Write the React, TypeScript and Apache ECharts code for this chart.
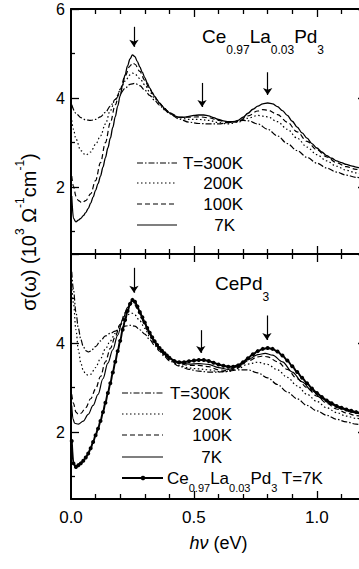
import React, { useEffect, useRef } from "react";
import * as echarts from "echarts";

// ---------- data (photon energy in eV, sigma in 10^3 Ohm^-1 cm^-1) ----------
const ce097_7K: [number, number][] = [
  [0.003, 1.8], [0.01, 1.3], [0.02, 1.22], [0.03, 1.26], [0.04, 1.3], [0.05, 1.36],
  [0.06, 1.43], [0.07, 1.52], [0.08, 1.64], [0.09, 1.78], [0.1, 1.93], [0.11, 2.08],
  [0.12, 2.25], [0.13, 2.45], [0.14, 2.66], [0.15, 2.88], [0.16, 3.1], [0.17, 3.34],
  [0.18, 3.58], [0.19, 3.82], [0.2, 4.05], [0.21, 4.3], [0.22, 4.52], [0.23, 4.72],
  [0.24, 4.88], [0.25, 4.97], [0.26, 4.93], [0.27, 4.82], [0.28, 4.7], [0.29, 4.58],
  [0.3, 4.46], [0.31, 4.34], [0.32, 4.23], [0.33, 4.13], [0.34, 4.04], [0.35, 3.96],
  [0.36, 3.89], [0.37, 3.83], [0.38, 3.77], [0.39, 3.72], [0.4, 3.67], [0.42, 3.6],
  [0.44, 3.57], [0.46, 3.57], [0.48, 3.59], [0.5, 3.61], [0.52, 3.62], [0.54, 3.62],
  [0.56, 3.6], [0.58, 3.56], [0.6, 3.52], [0.62, 3.49], [0.64, 3.47], [0.66, 3.47],
  [0.68, 3.5], [0.7, 3.57], [0.72, 3.66], [0.74, 3.75], [0.76, 3.82], [0.78, 3.87],
  [0.8, 3.89], [0.82, 3.87], [0.84, 3.81], [0.86, 3.72], [0.88, 3.61], [0.9, 3.48],
  [0.92, 3.35], [0.94, 3.22], [0.96, 3.1], [0.98, 2.98], [1.0, 2.88], [1.02, 2.79],
  [1.04, 2.71], [1.06, 2.65], [1.08, 2.59], [1.1, 2.55], [1.12, 2.51], [1.14, 2.48],
  [1.16, 2.45], [1.18, 2.43], [1.2, 2.41],
];
const ce097_100K: [number, number][] = [
  [0.003, 2.25], [0.01, 2.02], [0.02, 1.8], [0.03, 1.7], [0.045, 1.65], [0.06, 1.7],
  [0.08, 1.85], [0.1, 2.15], [0.12, 2.55], [0.14, 3.0], [0.16, 3.45], [0.18, 3.85],
  [0.2, 4.2], [0.22, 4.5], [0.24, 4.72], [0.25, 4.79], [0.26, 4.76], [0.28, 4.6],
  [0.3, 4.4], [0.32, 4.2], [0.34, 4.03], [0.36, 3.89], [0.38, 3.77], [0.4, 3.67],
  [0.44, 3.57], [0.48, 3.57], [0.52, 3.58], [0.56, 3.56], [0.6, 3.5], [0.64, 3.45],
  [0.68, 3.47], [0.72, 3.6], [0.76, 3.71], [0.78, 3.74], [0.8, 3.73], [0.84, 3.63],
  [0.88, 3.46], [0.92, 3.24], [0.96, 3.03], [1.0, 2.84], [1.04, 2.68], [1.08, 2.55],
  [1.12, 2.46], [1.16, 2.4], [1.2, 2.35],
];
const ce097_200K: [number, number][] = [
  [0.003, 3.5], [0.01, 3.3], [0.02, 3.08], [0.04, 2.82], [0.06, 2.72], [0.08, 2.79],
  [0.1, 2.96], [0.12, 3.15], [0.14, 3.42], [0.16, 3.72], [0.18, 3.97], [0.2, 4.17],
  [0.22, 4.38], [0.24, 4.52], [0.25, 4.56], [0.26, 4.54], [0.28, 4.44], [0.3, 4.3],
  [0.32, 4.14], [0.34, 4.0], [0.36, 3.87], [0.38, 3.76], [0.4, 3.67], [0.44, 3.56],
  [0.48, 3.52], [0.52, 3.52], [0.56, 3.5], [0.6, 3.45], [0.64, 3.42], [0.68, 3.46],
  [0.72, 3.55], [0.76, 3.61], [0.8, 3.58], [0.84, 3.47], [0.88, 3.3], [0.92, 3.1],
  [0.96, 2.9], [1.0, 2.73], [1.04, 2.59], [1.08, 2.47], [1.12, 2.38], [1.16, 2.32],
  [1.2, 2.27],
];
const ce097_300K: [number, number][] = [
  [0.003, 3.85], [0.02, 3.66], [0.04, 3.56], [0.06, 3.51], [0.08, 3.5], [0.1, 3.52],
  [0.12, 3.58], [0.14, 3.68], [0.16, 3.82], [0.18, 3.97], [0.2, 4.1], [0.22, 4.22],
  [0.24, 4.31], [0.26, 4.33], [0.28, 4.28], [0.3, 4.18], [0.32, 4.06], [0.34, 3.95],
  [0.36, 3.84], [0.38, 3.74], [0.4, 3.65], [0.44, 3.53], [0.48, 3.46], [0.52, 3.43],
  [0.56, 3.42], [0.6, 3.42], [0.64, 3.45], [0.68, 3.49], [0.7, 3.5], [0.72, 3.49],
  [0.76, 3.42], [0.8, 3.3], [0.84, 3.15], [0.88, 2.98], [0.92, 2.82], [0.96, 2.67],
  [1.0, 2.54], [1.04, 2.43], [1.08, 2.34], [1.12, 2.27], [1.16, 2.22], [1.2, 2.18],
];
const cepd3_7K: [number, number][] = [
  [0.003, 2.6], [0.008, 2.3], [0.015, 2.2], [0.03, 2.18], [0.05, 2.25], [0.07, 2.4],
  [0.09, 2.6], [0.11, 2.85], [0.13, 3.2], [0.15, 3.55], [0.17, 3.85], [0.19, 4.18],
  [0.21, 4.52], [0.23, 4.8], [0.25, 4.95], [0.26, 4.93], [0.28, 4.7], [0.3, 4.45],
  [0.32, 4.22], [0.34, 4.03], [0.36, 3.88], [0.38, 3.76], [0.4, 3.66], [0.44, 3.56],
  [0.48, 3.53], [0.52, 3.54], [0.56, 3.52], [0.6, 3.45], [0.64, 3.41], [0.68, 3.47],
  [0.72, 3.63], [0.76, 3.74], [0.79, 3.77], [0.82, 3.73], [0.86, 3.58], [0.9, 3.35],
  [0.94, 3.13], [0.98, 2.93], [1.02, 2.76], [1.06, 2.62], [1.1, 2.52], [1.14, 2.45],
  [1.18, 2.4],
];
const cepd3_100K: [number, number][] = [
  [0.003, 2.85], [0.01, 2.65], [0.02, 2.45], [0.03, 2.4], [0.04, 2.42], [0.06, 2.55],
  [0.08, 2.75], [0.1, 2.97], [0.12, 3.25], [0.14, 3.58], [0.16, 3.88], [0.18, 4.15],
  [0.2, 4.42], [0.22, 4.68], [0.24, 4.85], [0.25, 4.9], [0.26, 4.86], [0.28, 4.65],
  [0.3, 4.42], [0.32, 4.2], [0.34, 4.02], [0.36, 3.87], [0.38, 3.75], [0.4, 3.65],
  [0.44, 3.54], [0.48, 3.5], [0.52, 3.5], [0.56, 3.47], [0.6, 3.4], [0.64, 3.38],
  [0.68, 3.45], [0.72, 3.6], [0.76, 3.69], [0.78, 3.71], [0.8, 3.69], [0.84, 3.58],
  [0.88, 3.41], [0.92, 3.2], [0.96, 3.0], [1.0, 2.81], [1.04, 2.65], [1.08, 2.52],
  [1.12, 2.43], [1.16, 2.37], [1.2, 2.33],
];
const cepd3_200K: [number, number][] = [
  [0.003, 5.3], [0.01, 4.9], [0.02, 4.3], [0.03, 3.85], [0.04, 3.55], [0.05, 3.38],
  [0.06, 3.3], [0.07, 3.28], [0.08, 3.3], [0.1, 3.45], [0.12, 3.65], [0.14, 3.87],
  [0.16, 4.05], [0.18, 4.22], [0.2, 4.4], [0.22, 4.57], [0.24, 4.66], [0.25, 4.67],
  [0.26, 4.63], [0.28, 4.5], [0.3, 4.33], [0.32, 4.15], [0.34, 3.99], [0.36, 3.85],
  [0.38, 3.73], [0.4, 3.63], [0.44, 3.5], [0.48, 3.44], [0.52, 3.42], [0.56, 3.4],
  [0.6, 3.36], [0.64, 3.36], [0.68, 3.43], [0.72, 3.53], [0.76, 3.57], [0.8, 3.52],
  [0.84, 3.4], [0.88, 3.23], [0.92, 3.04], [0.96, 2.85], [1.0, 2.69], [1.04, 2.55],
  [1.08, 2.44], [1.12, 2.36], [1.16, 2.31], [1.2, 2.27],
];
const cepd3_300K: [number, number][] = [
  [0.003, 5.6], [0.01, 5.2], [0.02, 4.7], [0.03, 4.33], [0.04, 4.08], [0.05, 3.92],
  [0.06, 3.83], [0.07, 3.8], [0.08, 3.82], [0.1, 3.92], [0.12, 4.05], [0.14, 4.16],
  [0.16, 4.22], [0.18, 4.27], [0.2, 4.33], [0.22, 4.38], [0.24, 4.4], [0.26, 4.38],
  [0.28, 4.3], [0.3, 4.2], [0.32, 4.08], [0.34, 3.95], [0.36, 3.82], [0.38, 3.7],
  [0.4, 3.6], [0.44, 3.48], [0.48, 3.41], [0.52, 3.37], [0.56, 3.35], [0.6, 3.35],
  [0.64, 3.37], [0.68, 3.4], [0.72, 3.4], [0.76, 3.33], [0.8, 3.22], [0.84, 3.07],
  [0.88, 2.9], [0.92, 2.75], [0.96, 2.6], [1.0, 2.48], [1.04, 2.38], [1.08, 2.29],
  [1.12, 2.23], [1.16, 2.18], [1.2, 2.15],
];

const X_MIN = 0;
const X_MAX = 1.2;
const Y_MIN = 0.5;
const Y_MAX = 6;
const xTickLabels = [0, 0.5, 1.0];
const xMajorTicks = [0.5, 1.0];
const xMinorTicks = [0.1, 0.2, 0.3, 0.4, 0.6, 0.7, 0.8, 0.9, 1.1];
const yMajorTicks = [2, 4, 6];
const yMinorTicks = [1, 3, 5];
const yTickLabelsTop = [2, 4, 6];
const yTickLabelsBottom = [2, 4];
const legendTemps = ["T=300K", "200K", "100K", "7K"];
// arrows: [energy, sigma start, sigma end]
const arrowsTop = [[0.256, 5.6, 5.15], [0.533, 4.34, 3.8], [0.8, 4.58, 4.07]];
const arrowsBottom = [[0.256, 5.69, 5.13], [0.528, 4.29, 3.78], [0.797, 4.62, 4.07]];

const FONT = '"Liberation Sans", Arial, Helvetica, sans-serif';
const INK = "#000";
const DASH_DOT = [6, 2, 1.5, 2];
const DOT = [1.5, 2.5];
const DASH = [5, 3];

const GRID_TOP = { left: 71, top: 9, width: 295, height: 245 };
const GRID_BOT = { left: 71, top: 254, width: 295, height: 245 };

function xAxis(gridIndex: number, position: string, ticks: number[], len: number, showLine: boolean, labels?: number[], extra?: any) {
  return {
    type: "value", gridIndex, position, min: X_MIN, max: X_MAX,
    axisLine: { show: showLine, onZero: false, lineStyle: { color: INK, width: 2 } },
    axisTick: { show: true, inside: true, length: len, customValues: ticks, lineStyle: { color: INK, width: 1.3 } },
    axisLabel: labels
      ? { show: true, customValues: labels, formatter: (v: number) => v.toFixed(1), color: INK, fontFamily: FONT, fontSize: 17, margin: 10 }
      : { show: false },
    splitLine: { show: false },
    ...(extra || {}),
  };
}
function yAxis(gridIndex: number, position: string, ticks: number[], len: number, showLine: boolean, labels?: number[]) {
  return {
    type: "value", gridIndex, position, min: Y_MIN, max: Y_MAX,
    axisLine: { show: showLine, onZero: false, lineStyle: { color: INK, width: 2 } },
    axisTick: { show: true, inside: true, length: len, customValues: ticks, lineStyle: { color: INK, width: 1.3 } },
    axisLabel: labels
      ? { show: true, customValues: labels, color: INK, fontFamily: FONT, fontSize: 16, margin: 6 }
      : { show: false },
    splitLine: { show: false },
  };
}

function line(name: string, data: [number, number][], axis: number, dash: any, width = 1.2, extra?: any) {
  return {
    type: "line", name, data, xAxisIndex: axis, yAxisIndex: axis,
    showSymbol: false, smooth: 0.35, smoothMonotone: "x",
    lineStyle: { color: INK, width, type: dash, cap: "butt" },
    itemStyle: { color: INK },
    silent: true,
    ...(extra || {}),
  };
}

function arrows(list: number[][]) {
  return {
    silent: true,
    symbol: ["none", "arrow"],
    symbolSize: 7,
    label: { show: false },
    lineStyle: { color: INK, width: 1.2, type: "solid" },
    data: list.map(([e, a, b]) => [{ coord: [e, a] }, { coord: [e, b] }]),
  };
}

const titleRich = (F: number, f: number, lh: number) => ({
  m: { fontSize: F, fontFamily: FONT, fill: INK, color: INK, lineHeight: lh, verticalAlign: "middle" },
  s: { fontSize: f, fontFamily: FONT, fill: INK, color: INK, lineHeight: f, verticalAlign: "bottom" },
});

export default function App() {
  const ref = useRef<HTMLDivElement>(null);
  useEffect(() => {
    if (!ref.current) return;
    const chart = echarts.init(ref.current, undefined, { renderer: "svg" });

    const graphic: any[] = [];
    // titles
    graphic.push({
      type: "text", x: 202, y: 16,
      style: { text: "{m|Ce}{s|0.97}{m|La}{s|0.03}{m|Pd}{s|3}", rich: titleRich(19, 12, 40), textVerticalAlign: "top" },
    });
    graphic.push({
      type: "text", x: 215, y: 263,
      style: { text: "{m|CePd}{s|3}", rich: titleRich(19, 12, 40), textVerticalAlign: "top" },
    });
    // y-axis name
    graphic.push({
      type: "text", x: 29, y: 232, rotation: Math.PI / 2,
      style: {
        text: "{m|σ(ω) (10}{u|3}{m| Ω}{u|-1}{m|cm}{u|-1}{m|)}",
        textAlign: "center", textVerticalAlign: "middle",
        rich: {
          m: { fontSize: 20, fontFamily: FONT, fill: INK, lineHeight: 30, verticalAlign: "middle" },
          u: { fontSize: 12, fontFamily: FONT, fill: INK, lineHeight: 12, verticalAlign: "top" },
        },
      },
    });
    // legends
    const dashes = [DASH_DOT, DOT, DASH, null];
    const topRows = [163, 183, 204, 225];
    const topRight = [243, 243, 243, 235];
    const botRows = [393, 414, 435, 457, 478];
    const botRight = [230, 232, 232, 222];
    legendTemps.forEach((t, i) => {
      graphic.push({
        type: "line", shape: { x1: 137, y1: topRows[i], x2: 177, y2: topRows[i] },
        style: { stroke: INK, lineWidth: 1.2, lineDash: dashes[i] || null },
      });
      graphic.push({
        type: "text", x: topRight[i], y: topRows[i],
        style: { text: t, fill: INK, fontFamily: FONT, fontSize: 17, textAlign: "right", textVerticalAlign: "middle" },
      });
      graphic.push({
        type: "line", shape: { x1: 122, y1: botRows[i], x2: 163, y2: botRows[i] },
        style: { stroke: INK, lineWidth: 1.2, lineDash: dashes[i] || null },
      });
      graphic.push({
        type: "text", x: botRight[i], y: botRows[i],
        style: { text: t, fill: INK, fontFamily: FONT, fontSize: 17, textAlign: "right", textVerticalAlign: "middle" },
      });
    });
    graphic.push({
      type: "line", shape: { x1: 122, y1: botRows[4], x2: 163, y2: botRows[4] },
      style: { stroke: INK, lineWidth: 2 },
    });
    graphic.push({ type: "circle", shape: { cx: 143, cy: botRows[4], r: 2.3 }, style: { fill: INK } });
    graphic.push({
      type: "text", x: 167, y: botRows[4] - 15,
      style: {
        text: "{m|Ce}{s|0.97}{m|La}{s|0.03}{m|Pd}{s|3}{m| T=7K}",
        rich: titleRich(17, 11, 30), textVerticalAlign: "top",
      },
    });

    const option: any = {
      animation: false,
      backgroundColor: "#fff",
      grid: [GRID_TOP, GRID_BOT, GRID_TOP, GRID_BOT],
      xAxis: [
        xAxis(0, "bottom", xMinorTicks, 5, true),
        xAxis(0, "top", xMinorTicks, 5, true),
        xAxis(1, "bottom", xMinorTicks, 5, true, xTickLabels, {
          name: "{i|hν} (eV)", nameLocation: "middle", nameGap: 35,
          nameTextStyle: {
            fontSize: 18, fontFamily: FONT, color: INK,
            rich: { i: { fontSize: 18, fontFamily: FONT, fontStyle: "italic", color: INK } },
          },
        }),
        xAxis(1, "top", xMinorTicks, 5, true),
        xAxis(2, "bottom", xMajorTicks, 8, false),
        xAxis(2, "top", xMajorTicks, 8, false),
        xAxis(3, "bottom", xMajorTicks, 8, false),
        xAxis(3, "top", xMajorTicks, 8, false),
      ],
      yAxis: [
        yAxis(0, "left", yMinorTicks, 4, true),
        yAxis(0, "right", yMinorTicks, 4, true),
        yAxis(1, "left", yMinorTicks, 4, true),
        yAxis(1, "right", yMinorTicks, 4, true),
        yAxis(2, "left", yMajorTicks, 8, false, yTickLabelsTop),
        yAxis(2, "right", yMajorTicks, 8, false),
        yAxis(3, "left", yMajorTicks, 8, false, yTickLabelsBottom),
        yAxis(3, "right", yMajorTicks, 8, false),
      ],
      series: [
        line("Ce0.97La0.03Pd3 300K", ce097_300K, 0, DASH_DOT, 1.2, { markLine: arrows(arrowsTop) }),
        line("Ce0.97La0.03Pd3 200K", ce097_200K, 0, DOT),
        line("Ce0.97La0.03Pd3 100K", ce097_100K, 0, DASH),
        line("Ce0.97La0.03Pd3 7K", ce097_7K, 0, "solid", 1.3),
        line("CePd3 300K", cepd3_300K, 2, DASH_DOT, 1.2, { markLine: arrows(arrowsBottom) }),
        line("CePd3 200K", cepd3_200K, 2, DOT),
        line("CePd3 100K", cepd3_100K, 2, DASH),
        line("CePd3 7K", cepd3_7K, 2, "solid", 1.2),
        line("Ce0.97La0.03Pd3 T=7K", ce097_7K, 2, "solid", 2, {
          showSymbol: true, symbol: "circle", symbolSize: 4,
        }),
      ],
      graphic,
    };
    chart.setOption(option);
    return () => chart.dispose();
  }, []);

  return (
    <div style={{ position: "absolute", left: 0, top: 0, width: 359, height: 569, overflow: "hidden", background: "#fff" }}>
      <div ref={ref} style={{ width: 380, height: 569 }} />
    </div>
  );
}
